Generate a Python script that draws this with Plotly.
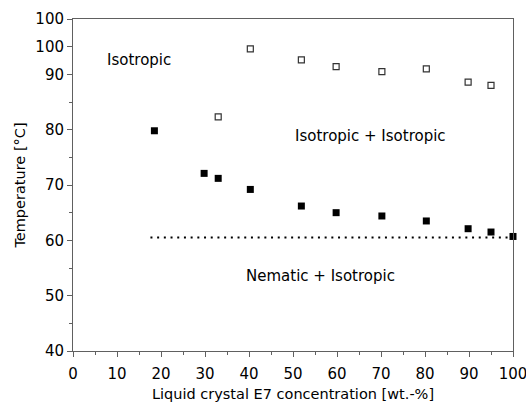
import plotly.graph_objects as go

# Data
iso_conc = [33.0, 40.3, 51.9, 59.8, 70.2, 80.3, 89.8, 95.0]
iso_temp = [82.3, 94.6, 92.6, 91.4, 90.5, 91.0, 88.6, 88.0]
nem_conc = [18.5, 29.8, 33.0, 40.3, 51.9, 59.8, 70.2, 80.3, 89.8, 95.0, 100.0]
nem_temp = [79.8, 72.1, 71.2, 69.2, 66.2, 65.0, 64.4, 63.5, 62.1, 61.5, 60.7]
line_conc = [17.6, 100.0]
line_temp = [60.5, 60.5]

y_tickvals = [40, 50, 60, 70, 80, 90, 95, 100]
y_ticktext = ["40", "50", "60", "70", "80", "90", "100", "100"]
x_tickvals = [0, 10, 20, 30, 40, 50, 60, 70, 80, 90, 100]

labels = [
    ("Isotropic", 14.9, 92.6),
    ("Isotropic + Isotropic", 67.6, 78.9),
    ("Nematic + Isotropic", 56.2, 53.6),
]

FONT = "DejaVu Sans, Verdana, sans-serif"
AX = "#606060"

fig = go.Figure()
fig.add_trace(go.Scatter(x=line_conc, y=line_temp, mode="lines",
                         line=dict(color="black", width=2, dash="2px,4.7px"),
                         showlegend=False, cliponaxis=False))
fig.add_trace(go.Scatter(x=iso_conc, y=iso_temp, mode="markers",
                         marker=dict(symbol="square-open", size=6, color="#333",
                                     line=dict(width=1.2)),
                         showlegend=False, cliponaxis=False))
fig.add_trace(go.Scatter(x=nem_conc, y=nem_temp, mode="markers",
                         marker=dict(symbol="square", size=7, color="black"),
                         showlegend=False, cliponaxis=False))

for text, x, y in labels:
    fig.add_annotation(x=x, y=y, text=text, showarrow=False,
                       font=dict(family=FONT, size=15, color="black"))

fig.update_layout(
    width=526, height=408,
    margin=dict(l=73, r=13, t=19, b=57),
    paper_bgcolor="white", plot_bgcolor="white",
    font=dict(family=FONT, size=15, color="black"),
)
fig.update_xaxes(
    range=[0, 100], tickvals=x_tickvals, ticks="outside", ticklen=5,
    tickcolor=AX, showline=True, linecolor=AX, linewidth=1, mirror=True,
    showgrid=False, zeroline=False, ticklabeloverflow="allow",
    ticklabelstandoff=4, automargin=False,
    minor=dict(tickvals=[5, 15, 25, 35, 45, 55, 65, 75, 85, 95],
               ticks="outside", ticklen=3, tickcolor=AX),
    title=dict(text="Liquid crystal E7 concentration [wt.-%]",
               font=dict(size=14.5), standoff=6),
    tickfont=dict(size=15),
)
fig.update_yaxes(
    range=[40, 100], tickvals=y_tickvals, ticktext=y_ticktext,
    ticks="outside", ticklen=5, tickcolor=AX,
    showline=True, linecolor=AX, linewidth=1, mirror=True,
    showgrid=False, zeroline=False, automargin=False,
    minor=dict(tickvals=[45, 55, 65, 75, 85], ticks="outside",
               ticklen=3, tickcolor=AX),
    title=dict(text="Temperature [°C]", font=dict(size=14.5), standoff=6),
    tickfont=dict(size=15),
)

fig.write_html("out.html")
